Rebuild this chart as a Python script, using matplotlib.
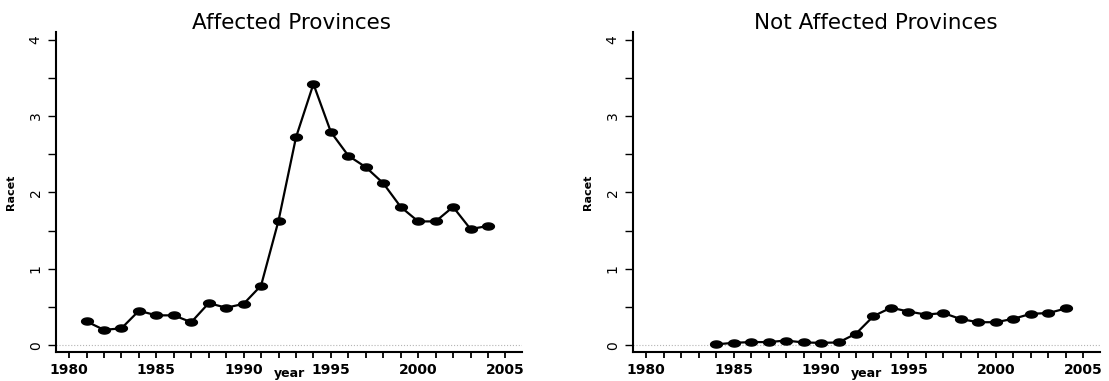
import numpy as np
import matplotlib
matplotlib.use("Agg")
import matplotlib.pyplot as plt
from matplotlib.path import Path
from matplotlib.ticker import MultipleLocator

# rates by year, affected vs not affected provinces
years_aff = [1981, 1982, 1983, 1984, 1985, 1986, 1987, 1988, 1989, 1990, 1991, 1992,
             1993, 1994, 1995, 1996, 1997, 1998, 1999, 2000, 2001, 2002, 2003, 2004]
rate_aff = [0.31, 0.20, 0.22, 0.45, 0.39, 0.39, 0.30, 0.55, 0.49, 0.54, 0.78, 1.63,
            2.72, 3.42, 2.79, 2.48, 2.33, 2.12, 1.81, 1.62, 1.62, 1.81, 1.52, 1.56]

years_not = [1984, 1985, 1986, 1987, 1988, 1989, 1990, 1991, 1992, 1993, 1994,
             1995, 1996, 1997, 1998, 1999, 2000, 2001, 2002, 2003, 2004]
rate_not = [0.01, 0.03, 0.04, 0.04, 0.06, 0.035, 0.03, 0.035, 0.15, 0.38, 0.49,
            0.44, 0.40, 0.42, 0.34, 0.30, 0.30, 0.345, 0.41, 0.42, 0.48]

titles = ["Affected Provinces", "Not Affected Provinces"]
year_ticks = [1980, 1985, 1990, 1995, 2000, 2005]
rate_ticks = [0, 1, 2, 3, 4]

# flat ellipse marker
t = np.linspace(0, 2 * np.pi, 40)
ellipse = Path(np.column_stack([np.cos(t), 0.6 * np.sin(t)]), closed=True)

fig = plt.figure(figsize=(11.09, 3.81), dpi=100)
W, H = 1109, 381
ax1 = fig.add_axes([56 / W, 29 / H, 466 / W, 320 / H])
ax2 = fig.add_axes([633 / W, 29 / H, 467 / W, 320 / H])

panels = [(ax1, years_aff, rate_aff, 0.506), (ax2, years_not, rate_not, 0.52)]
for (ax, xs, ys, tx), title in zip(panels, titles):
    ax.axhline(0, color="#b5b5b5", ls=":", lw=0.8, zorder=0)
    ax.plot(xs, ys, color="black", lw=1.6, marker=ellipse, markersize=8.5,
            markerfacecolor="black", markeredgecolor="black")
    ax.set_xlim(1979.25, 2005.95)
    ax.set_ylim(-0.09, 4.1)
    for s in ["top", "right"]:
        ax.spines[s].set_visible(False)
    for s in ["left", "bottom"]:
        ax.spines[s].set_linewidth(1.5)

    ax.set_xticks(year_ticks)
    ax.xaxis.set_minor_locator(MultipleLocator(1))
    ax.set_yticks(rate_ticks)
    ax.yaxis.set_minor_locator(MultipleLocator(0.5))
    ax.tick_params(axis="x", which="both", length=4, width=1.3, pad=4)
    ax.tick_params(axis="y", which="both", length=5.5, width=1.0, pad=4)
    for lab in ax.get_xticklabels():
        lab.set_fontweight("bold")
        lab.set_fontsize(10)
    for lab in ax.get_yticklabels():
        lab.set_rotation(90)
        lab.set_va("center")
        lab.set_fontsize(10)

    ax.text(tx, 1.01, title, transform=ax.transAxes, ha="center", va="baseline",
            fontsize=15.5)
    ax.set_ylabel("Racet", fontsize=8, fontweight="bold", labelpad=9)

    # axis title squeezed under the year labels, at the bottom edge
    x_mid = ax.get_position().x0 + ax.get_position().width / 2
    fig.text(x_mid, 1 / H, "year", ha="center", va="bottom",
             fontsize=9, fontweight="bold")

fig.savefig("out.png", dpi=100)
